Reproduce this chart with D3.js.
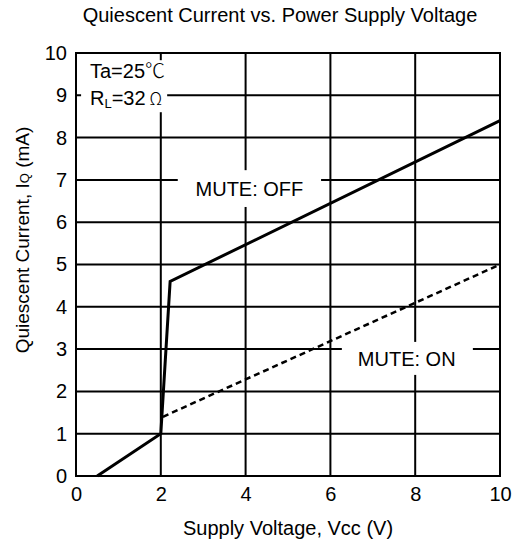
<!DOCTYPE html>
<html><head><meta charset="utf-8">
<script src="https://cdn.jsdelivr.net/npm/d3@7"></script>
<style>body{margin:0;background:#fff;} svg{display:block;}</style>
</head><body>
<svg id="chart" width="513" height="545"></svg>
<script>
const xTicks = [0, 2, 4, 6, 8, 10];
const yTicks = [0, 1, 2, 3, 4, 5, 6, 7, 8, 9, 10];
const muteOffV = [0.5, 2.0, 2.22, 10];
const muteOffI = [0, 1.0, 4.6, 8.4];
const muteOnV = [2.05, 10];
const muteOnI = [1.4, 5.0];

const W = 513, H = 545;
const m = {left: 76, right: 13, top: 53, bottom: 69};
const svg = d3.select("#chart");
const font = "Arial, 'Liberation Sans', Helvetica, sans-serif";
const FS = 20;
const x = d3.scaleLinear().domain([0, 10]).range([m.left, W - m.right]);
const y = d3.scaleLinear().domain([0, 10]).range([H - m.bottom, m.top]);

// grid
const g = svg.append("g");
g.selectAll("line.v").data(xTicks.slice(1, -1)).join("line")
  .attr("x1", d => x(d)).attr("x2", d => x(d)).attr("y1", y(0)).attr("y2", y(10))
  .attr("stroke", "#000").attr("stroke-width", 2);
g.selectAll("line.h").data(yTicks.slice(1, -1)).join("line")
  .attr("y1", d => y(d)).attr("y2", d => y(d)).attr("x1", x(0)).attr("x2", x(10))
  .attr("stroke", "#000").attr("stroke-width", 2);

// axes labels
const xAxis = d3.axisBottom(x).tickValues(xTicks).tickSize(0).tickPadding(11);
const gx = svg.append("g").attr("transform", `translate(0,${y(0)})`).call(xAxis);
gx.select(".domain").remove();
gx.selectAll("text").attr("font-family", font).attr("font-size", FS).attr("fill", "#000");
const yAxis = d3.axisLeft(y).tickValues(yTicks).tickSize(0).tickPadding(9);
const gy = svg.append("g").attr("transform", `translate(${x(0)},0)`).call(yAxis);
gy.select(".domain").remove();
gy.selectAll("text").attr("font-family", font).attr("font-size", FS).attr("fill", "#000");

// label boxes (white, cover grid)
const boxes = [
  {x0: 0.12, x1: 2.15, y0: 8.6, y1: 9.83},
  {x0: 2.4, x1: 5.78, y0: 6.36, y1: 7.23},
  {x0: 6.27, x1: 9.36, y0: 2.39, y1: 3.17}
];
svg.selectAll("rect.box").data(boxes).join("rect")
  .attr("x", d => x(d.x0)).attr("y", d => y(d.y1))
  .attr("width", d => x(d.x1) - x(d.x0)).attr("height", d => y(d.y0) - y(d.y1))
  .attr("fill", "#fff");

// frame
svg.append("rect").attr("x", x(0)).attr("y", y(10)).attr("width", x(10) - x(0)).attr("height", y(0) - y(10))
  .attr("fill", "none").attr("stroke", "#000").attr("stroke-width", 2);

// lines
const line = d3.line().x(d => x(d[0])).y(d => y(d[1]));
svg.append("path").datum(muteOffV.map((v, i) => [v, muteOffI[i]]))
  .attr("d", line).attr("fill", "none").attr("stroke", "#000").attr("stroke-width", 3);
svg.append("path").datum(muteOnV.map((v, i) => [v, muteOnI[i]]))
  .attr("d", line).attr("fill", "none").attr("stroke", "#000").attr("stroke-width", 2.5)
  .attr("stroke-dasharray", "6,4");

// texts
const t = (txt, px, py, size, anchor = "start") => svg.append("text").attr("x", px).attr("y", py)
  .attr("font-family", font).attr("font-size", size).attr("text-anchor", anchor).attr("fill", "#000").text(txt);

t("Quiescent Current vs. Power Supply Voltage", 280, 22, FS, "middle");
t("Supply Voltage, Vcc (V)", x(5), 535, FS, "middle");
t("MUTE: OFF", x(4.09), 196, FS, "middle");
t("MUTE: ON", x(7.8), 366, FS, "middle");

const ta = svg.append("text").attr("x", 90).attr("y", 78).attr("font-family", font).attr("font-size", FS);
ta.append("tspan").text("Ta=25");
ta.append("tspan").attr("font-family", "'Noto Sans CJK SC', sans-serif").attr("font-weight", 300).text("℃");
const rl = svg.append("text").attr("x", 90).attr("y", 105).attr("font-family", font).attr("font-size", FS);
rl.append("tspan").text("R");
rl.append("tspan").attr("font-size", 13).attr("dy", 3).text("L");
rl.append("tspan").attr("dy", -3).text("=32");
rl.append("tspan").attr("font-family", "'Noto Sans CJK SC', sans-serif").attr("font-weight", 300).attr("font-size", 17).text(" Ω");

const yl = svg.append("text").attr("transform", `translate(29,240) rotate(-90)`)
  .attr("font-family", font).attr("font-size", 19).attr("text-anchor", "middle");
yl.append("tspan").text("Quiescent Current, I");
yl.append("tspan").attr("font-size", 13).text("Q");
yl.append("tspan").text(" (mA)");
</script>
</body></html>
